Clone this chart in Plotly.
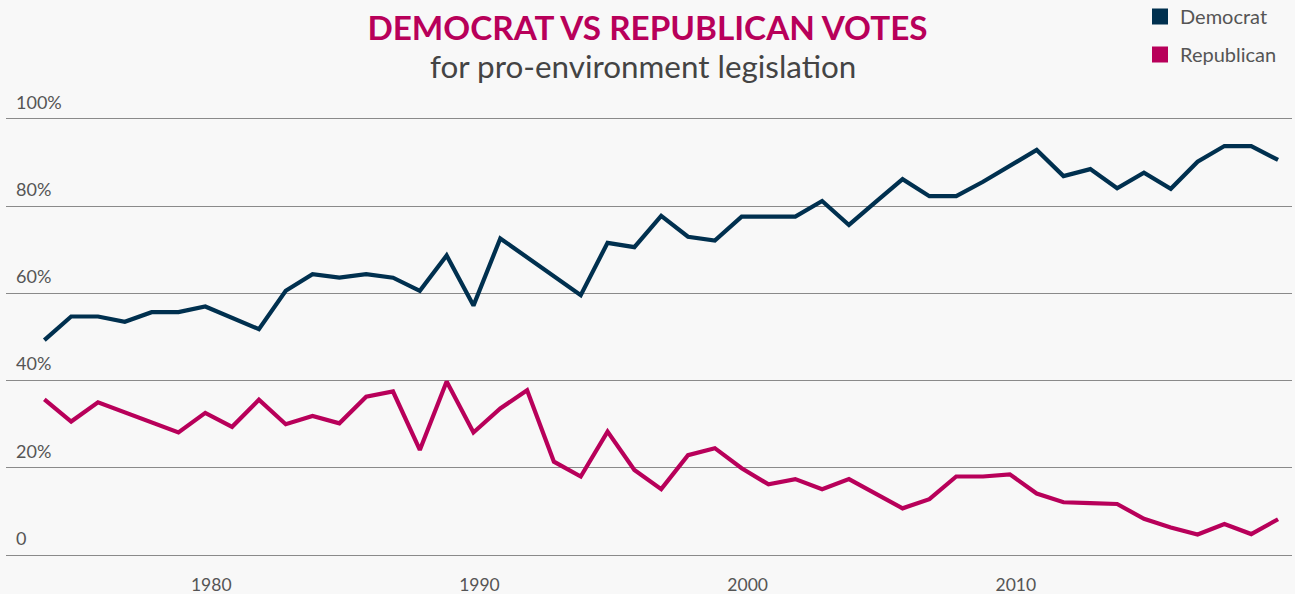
import plotly.graph_objects as go

years = list(range(1974, 2021))

democrat = [49.3, 54.7, 54.7, 53.5, 55.7, 55.7, 57.0, 54.4, 51.8, 60.6,
            64.4, 63.6, 64.4, 63.6, 60.6, 68.7, 57.2, 72.6, 68.3, 64.0,
            59.6, 71.6, 70.6, 77.8, 73.0, 72.1, 77.6, 77.6, 77.6, 81.2,
            75.7, 81.0, 86.2, 82.3, 82.3, 85.6, 89.3, 92.9, 86.9, 88.5,
            84.1, 87.7, 84.0, 90.2, 93.8, 93.8, 90.6]

republican = [35.7, 30.6, 35.0, 32.7, 30.4, 28.1, 32.6, 29.4, 35.6, 30.0,
              31.9, 30.2, 36.3, 37.5, 24.1, 39.8, 28.1, 33.6, 37.8, 21.4,
              18.0, 28.3, 19.5, 15.1, 22.9, 24.5, 19.9, 16.2, 17.4, 15.1,
              17.4, 14.0, 10.7, 12.8, 18.0, 18.0, 18.5, 14.1, 12.1, 11.9,
              11.7, 8.3, 6.3, 4.7, 7.1, 4.8, 8.2]

x_tick_vals = [1980, 1990, 2000, 2010]
y_tick_vals = [0, 20, 40, 60, 80, 100]
y_tick_text = ["0", "20%", "40%", "60%", "80%", "100%"]

DEM = "#00304f"
REP = "#b8005a"
GRID = "#8a8a8a"
FONT = "Lato, 'Source Sans Pro', sans-serif"

W, H = 1295, 594
ML, MR, MT, MB = 6, 3, 119, 39
PW, PH = W - ML - MR, H - MT - MB

fig = go.Figure()
fig.add_trace(go.Scatter(x=years, y=democrat, mode="lines", name="Democrat",
                         line=dict(color=DEM, width=4.2), showlegend=False))
fig.add_trace(go.Scatter(x=years, y=republican, mode="lines", name="Republican",
                         line=dict(color=REP, width=4.2), showlegend=False))
# legend entries (square swatches)
fig.add_trace(go.Scatter(x=[None], y=[None], mode="markers", name="Democrat",
                         marker=dict(symbol="square", size=16, color=DEM),
                         legendgroup="d"))
fig.add_trace(go.Scatter(x=[None], y=[None], mode="markers", name="Republican",
                         marker=dict(symbol="square", size=16, color=REP),
                         legendgroup="r"))

fig.update_layout(
    width=W, height=H,
    paper_bgcolor="#f8f8f8", plot_bgcolor="#f8f8f8",
    margin=dict(l=ML, r=MR, t=MT, b=MB, autoexpand=False),
    font=dict(family=FONT, color="#555555", size=17),
    title=dict(
        text="<b>DEMOCRAT VS REPUBLICAN VOTES</b>",
        font=dict(family=FONT, size=33.3, color=REP),
        x=0.5, xanchor="center", xref="container",
        y=1 - 28 / H, yanchor="middle", yref="container",
    ),
    annotations=[dict(
        text="for pro-environment legislation",
        xref="paper", yref="paper", x=(643 - ML) / PW, y=(H - MB - 66) / PH,
        xanchor="center", yanchor="middle", showarrow=False,
        font=dict(family=FONT, size=31.4, color="#444444"),
    )],
    legend=dict(
        xref="paper", yref="paper",
        x=(1140 - ML) / PW, xanchor="left", y=(H - MB + 3) / PH, yanchor="top",
        font=dict(family=FONT, size=20, color="#555555"),
        tracegroupgap=9, itemwidth=30, bgcolor="rgba(0,0,0,0)",
    ),
    xaxis=dict(
        range=[1972.57, 2020.52], tickvals=x_tick_vals,
        showgrid=False, zeroline=False, ticks="",
        showline=True, mirror=True, linecolor=GRID, linewidth=1.2,
        tickfont=dict(size=17.5, color="#555555"),
        ticklabelstandoff=14, ticklabelshift=6,
    ),
    yaxis=dict(
        range=[0, 100], tickvals=y_tick_vals, ticktext=y_tick_text,
        showgrid=True, gridcolor=GRID, gridwidth=1.2,
        zeroline=False, showline=False, ticks="",
        ticklabelposition="inside top", ticklabeloverflow="allow",
        ticklabelstandoff=7, ticklabelshift=-4,
        tickfont=dict(size=18, color="#555555"),
    ),
)

fig.write_html(
    "out.html",
    config={"displayModeBar": False},
    post_script="document.body.style.margin='0';document.body.style.overflow='hidden';",
)
